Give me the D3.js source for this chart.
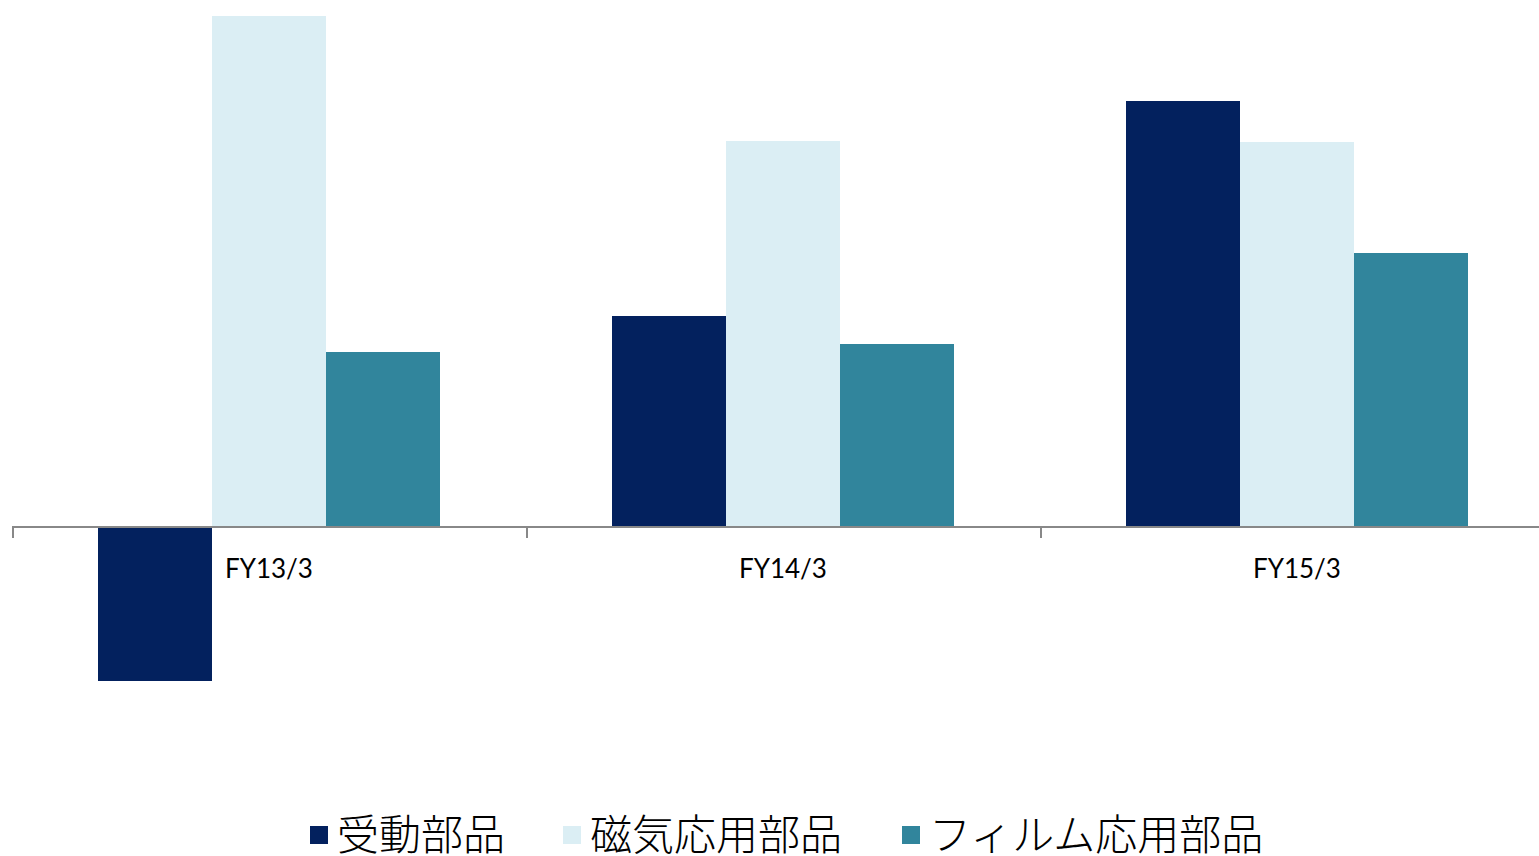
<!DOCTYPE html>
<html><head><meta charset="utf-8">
<script src="https://cdn.jsdelivr.net/npm/d3@7"></script>
<style>html,body{margin:0;padding:0;background:#fff;overflow:hidden}</style>
</head><body>
<svg id="c" width="1539" height="856"></svg>
<script>
const categories = ["FY13/3", "FY14/3", "FY15/3"];
const seriesNames = ["受動部品", "磁気応用部品", "フィルム応用部品"];
const passive = [-15.4, 21.1, 42.6];
const magnetic = [51.1, 38.6, 38.5];
const film = [17.5, 18.3, 27.4];
const colors = ["#03215E", "#DBEEF4", "#31859C"];

const seriesValues = [passive, magnetic, film];
const svg = d3.select("#c");

const x = d3.scaleBand().domain(categories).range([12, 1554]).padding(0);
const xs = d3.scaleBand().domain(seriesNames).range([86, 428]).padding(0);
const y = d3.scaleLinear().domain([-30, 52.6]).range([827, 1]);

const rows = [];
categories.forEach((c, i) => seriesNames.forEach((s, j) => rows.push({c, s, j, v: seriesValues[j][i]})));

svg.append("g").selectAll("rect").data(rows).join("rect")
  .attr("x", d => x(d.c) + xs(d.s))
  .attr("width", xs.bandwidth())
  .attr("y", d => Math.min(y(d.v), y(0)))
  .attr("height", d => Math.abs(y(d.v) - y(0)))
  .attr("fill", d => colors[d.j]);

// axis
const y0 = y(0);
svg.append("line").attr("x1", x.range()[0]).attr("x2", 1539).attr("y1", y0).attr("y2", y0)
  .attr("stroke", "#888").attr("stroke-width", 2);
svg.append("g").selectAll("line").data(categories).join("line")
  .attr("x1", d => x(d) + 1).attr("x2", d => x(d) + 1)
  .attr("y1", y0).attr("y2", y0 + 11)
  .attr("stroke", "#888").attr("stroke-width", 2);

svg.append("g").selectAll("text").data(categories).join("text")
  .attr("x", d => x(d) + x.bandwidth() / 2)
  .attr("y", y0 + 51)
  .attr("text-anchor", "middle")
  .attr("font-family", "Lato, 'Open Sans', sans-serif")
  .attr("font-size", 26)
  .attr("fill", "#000")
  .text(d => d);

// legend
const legendX = [310, 563, 902];
const lg = svg.append("g").selectAll("g").data(seriesNames).join("g")
  .attr("transform", (d, i) => `translate(${legendX[i]},0)`);
lg.append("rect").attr("x", 0).attr("y", 826).attr("width", 18).attr("height", 18)
  .attr("fill", (d, i) => colors[i]);
lg.append("text").attr("x", 27).attr("y", 850)
  .attr("font-family", "'Noto Sans CJK JP', sans-serif")
  .attr("font-weight", 300)
  .attr("font-size", 42)
  .attr("fill", "#000")
  .text(d => d);
</script>
</body></html>
